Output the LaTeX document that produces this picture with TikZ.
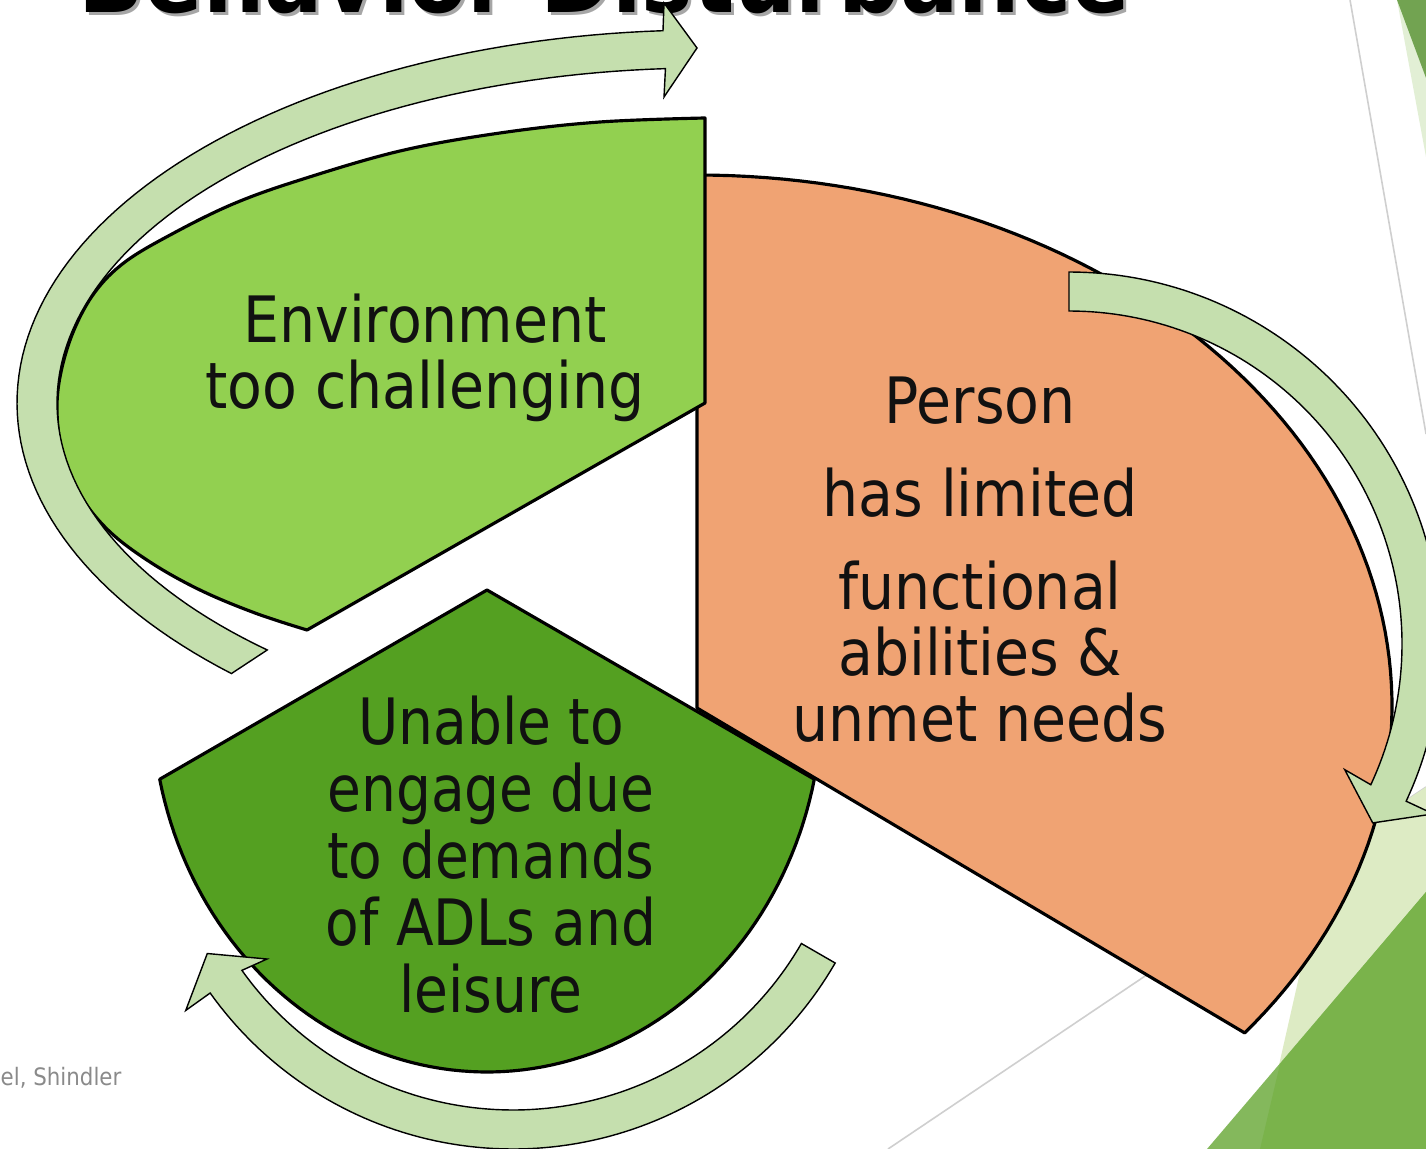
\documentclass[tikz,border=0pt]{standalone}
\usepackage{fontspec}
\setmainfont{DejaVu Sans}[FakeStretch=0.89]
\newfontfamily\condfont{DejaVu Sans}[FakeStretch=0.86]
\definecolor{orangefill}{HTML}{F0A373}
\definecolor{lgreen}{HTML}{92D050}
\definecolor{dgreen}{HTML}{54A021}
\definecolor{arrowfill}{HTML}{C5DFAE}
\definecolor{textblack}{HTML}{111111}
\definecolor{greyline}{HTML}{CFCFCF}
\definecolor{decodark}{HTML}{72A351}
\definecolor{decostrip}{HTML}{E2EFD5}
\definecolor{decolight}{HTML}{DDEBC4}
\definecolor{decotri}{HTML}{84B85C}
\definecolor{decotridark}{HTML}{7AB34B}
\definecolor{footgrey}{HTML}{8A8A8A}
\begin{document}
\begin{tikzpicture}[x=0.1mm, y=-0.1mm,
  shapeline/.style={draw=black, line width=0.9pt, line join=round},
  arrowband/.style={fill=arrowfill, draw=black, line width=0.4pt, line join=miter},
  deco line/.style={draw=greyline, line width=0.45pt},
  lbl/.style={inner sep=0pt, align=center, text=textblack},
]
\useasboundingbox (0,0) rectangle (1426,1149);
\clip (0,0) rectangle (1426,1149);
\fill[white] (0,0) rectangle (1426,1149);

% ---- slide decoration
\fill[decostrip] (1397,0) -- (1426,157) -- (1426,0) -- cycle;
\fill[decodark] (1397,0) -- (1426,78) -- (1426,0) -- cycle;
\draw[deco line] (1350,0) -- (1426,434);
\draw[deco line] (888,1149) -- (1426,787);
\fill[decolight] (1327,853) -- (1426,787) -- (1426,1149) -- (1260,1149) -- cycle;
\fill[decotri] (1207,1149) -- (1426,892) -- (1426,1149) -- cycle;
\fill[decotridark] (1280,1064) -- (1426,892) -- (1426,1149) -- (1260,1149) -- cycle;

% ---- title (cut off at the top, as in the slide crop)
\node[anchor=base west, inner sep=0pt, text=gray!70, font=\bfseries\fontsize{27.6pt}{30pt}\selectfont] (titleshadow) at (81,16) {Behavior Disturbance};
\node[anchor=base west, inner sep=0pt, text=black, font=\bfseries\fontsize{27.6pt}{30pt}\selectfont] (title) at (78,13) {Behavior Disturbance};

% ---- segments
\filldraw[shapeline, fill=orangefill] (697,175)
  -- plot[domain=270:398, samples=90] ({697+695*cos(\x)},{706+531*sin(\x)})
  -- (697,708) -- cycle;
\filldraw[shapeline, fill=lgreen] (705,118) -- (705,403) -- (307,630)
  -- plot[smooth, tension=0.6] coordinates {(307,630) (255,613) (200,590) (150,562) (108,530) (78,492) (62,452) (57,410) (61,372) (74,330) (95,292) (125,262) (172,234) (233,204) (300,180) (400,151) (500,133) (600,122) (705,118)}
  -- cycle;
\filldraw[shapeline, fill=dgreen] (487,590)
  -- plot[domain=12.3:167.7, samples=90] ({487+335*cos(\x)},{700+372*sin(\x)})
  -- cycle;

% ---- curved arrows
\filldraw[arrowband]
  plot[domain=133.5:266.5, samples=90] ({705+688*cos(\x)},{403+373*sin(\x)})
  -- (664,3) -- (697,48) -- (664,97)
  -- plot[domain=266.5:132.5, samples=90] ({705+648*cos(\x)},{403+335*sin(\x)})
  -- cycle;
\filldraw[arrowband]
  plot[domain=270:385, samples=90] ({1069+372*cos(\x)},{644+372*sin(\x)})
  -- ({1069+402*cos(385)},{644+402*sin(385)})
  -- ({1069+352.5*cos(390.5)},{644+352.5*sin(390.5)})
  -- ({1069+303*cos(384.5)},{644+303*sin(384.5)})
  -- plot[domain=385:270, samples=90] ({1069+333*cos(\x)},{644+333*sin(\x)})
  -- cycle;
\filldraw[arrowband]
  plot[domain=30:144.5, samples=90] ({513+372*cos(\x)},{777+372*sin(\x)})
  -- ({513+402*cos(144.5)},{777+402*sin(144.5)})
  -- ({513+353*cos(150)},{777+353*sin(150)})
  -- ({513+306*cos(143.5)},{777+306*sin(143.5)})
  -- plot[domain=144.5:30, samples=90] ({513+333*cos(\x)},{777+333*sin(\x)})
  -- cycle;

% ---- labels
\node[lbl, font=\fontsize{18.2pt}{18.78pt}\selectfont] (env) at (425,358.3) {Environment\\too challenging};
\node[lbl, font=\fontsize{18.2pt}{18.9pt}\selectfont] (person) at (980,559.9) {Person\\[7.5pt]has limited\\[7.5pt]functional\\abilities \&\\unmet needs};
\node[lbl, font=\condfont\fontsize{18.2pt}{19.06pt}\selectfont] (unable) at (491,854.7) {Unable to\\engage due\\to demands\\of ADLs and\\leisure};
\node[anchor=base west, inner sep=0pt, text=footgrey, font=\fontsize{6.83pt}{8pt}\selectfont] (footer) at (0,1085) {el, Shindler};
\end{tikzpicture}
\end{document}
